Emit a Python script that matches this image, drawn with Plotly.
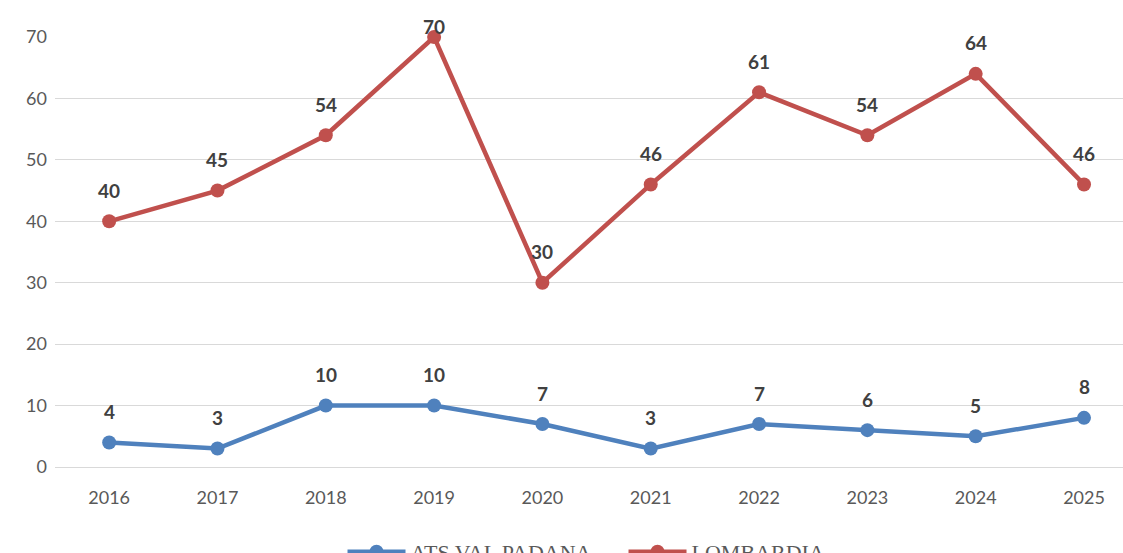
import plotly.graph_objects as go

years = ["2016", "2017", "2018", "2019", "2020", "2021", "2022", "2023", "2024", "2025"]
ats_val_padana = [4, 3, 10, 10, 7, 3, 7, 6, 5, 8]
lombardia = [40, 45, 54, 70, 30, 46, 61, 54, 64, 46]
y_ticks = [0, 10, 20, 30, 40, 50, 60, 70]

BLUE = "#4F81BD"
RED = "#C0504D"

fig = go.Figure()
fig.add_trace(go.Scatter(
    x=years, y=ats_val_padana, name="ATS VAL PADANA", mode="lines+markers",
    line=dict(color=BLUE, width=4.5), marker=dict(color=BLUE, size=14),
    cliponaxis=False,
))
fig.add_trace(go.Scatter(
    x=years, y=lombardia, name="LOMBARDIA", mode="lines+markers",
    line=dict(color=RED, width=4.5), marker=dict(color=RED, size=14),
    cliponaxis=False,
))

annotations = []
for series in (ats_val_padana, lombardia):
    for i, v in enumerate(series):
        annotations.append(dict(
            x=i, y=v, xref="x", yref="y", text="<b>%d</b>" % v, showarrow=False,
            yshift=11 if v == max(y_ticks) else 31,
            font=dict(family="Lato", size=19, color="#404040"),
        ))

fig.update_layout(
    width=1123, height=553,
    margin=dict(l=55, r=0, t=37, b=86, autoexpand=False),
    paper_bgcolor="white", plot_bgcolor="white",
    showlegend=True,
    legend=dict(orientation="h", xref="container", x=0.305, xanchor="left",
                yref="container", y=0.04, yanchor="top",
                itemwidth=58, entrywidth=208, entrywidthmode="pixels",
                font=dict(family="Liberation Serif", size=22, color="#595959")),
    annotations=annotations,
    xaxis=dict(type="category", range=[-0.5, 9.36], showgrid=False, showline=False,
               ticks="", automargin=False, ticklabelstandoff=18,
               tickfont=dict(family="Lato", size=18, color="#595959")),
    yaxis=dict(range=[0, 70], tickvals=y_ticks, showgrid=True, gridcolor="#d9d9d9",
               gridwidth=1, zeroline=True, zerolinecolor="#d9d9d9", zerolinewidth=1,
               ticks="", ticklabelstandoff=7, automargin=False,
               tickfont=dict(family="Lato", size=18, color="#595959")),
)

fig.write_html(
    "out.html",
    config={"displayModeBar": False},
    post_script="document.body.style.margin='0';"
                "document.body.style.overflow='hidden';"
                "document.documentElement.style.overflow='hidden';",
)
